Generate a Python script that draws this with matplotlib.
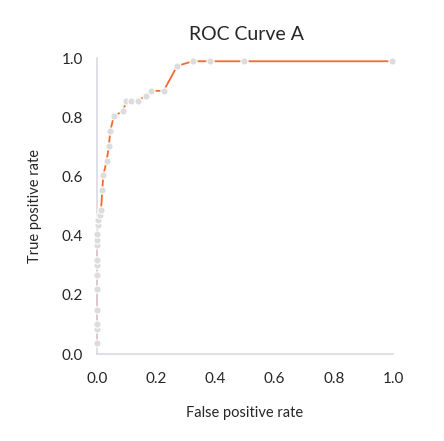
import matplotlib
matplotlib.use("Agg")
import matplotlib.pyplot as plt

fpr = [0.0, 0.0, 0.0, 0.0, 0.0, 0.0, 0.0, 0.0, 0.0, 0.0, 0.0,
       0.002, 0.005, 0.011, 0.0135, 0.018, 0.021, 0.033, 0.040, 0.045,
       0.057, 0.089, 0.098, 0.115, 0.137, 0.164, 0.182, 0.225, 0.271,
       0.323, 0.383, 0.496, 0.997]
tpr = [0.036, 0.085, 0.10, 0.15, 0.218, 0.267, 0.30, 0.318, 0.368, 0.385, 0.404,
       0.435, 0.452, 0.47, 0.485, 0.553, 0.604, 0.653, 0.703, 0.754,
       0.804, 0.821, 0.855, 0.855, 0.855, 0.872, 0.889, 0.889, 0.973,
       0.989, 0.989, 0.989, 0.989]
ticks = [0.0, 0.2, 0.4, 0.6, 0.8, 1.0]
tick_labels = ["0.0", "0.2", "0.4", "0.6", "0.8", "1.0"]

plt.rcParams['font.family'] = ['Lato', 'DejaVu Sans']
text_color = "#262626"

fig = plt.figure(figsize=(4.44, 4.41), dpi=100)
ax = fig.add_axes([97/444, 1-354/441, 296/444, 296/441])

ax.plot(fpr, tpr, color="#f26b2a", lw=1.3, zorder=2, clip_on=False)
ax.plot(fpr, tpr, ls="none", marker="o", ms=5.2, mfc="#dcdcdc", mec="white",
        mew=0.8, zorder=3, clip_on=False)

ax.set_xlim(0, 1)
ax.set_ylim(0, 1)
ax.set_xticks(ticks)
ax.set_xticklabels(tick_labels)
ax.set_yticks(ticks)
ax.set_yticklabels(tick_labels)
ax.tick_params(length=0, labelsize=11, colors=text_color)
ax.tick_params(axis="x", pad=13)
ax.tick_params(axis="y", pad=10)
for s in ["top", "right"]:
    ax.spines[s].set_visible(False)
for s in ["left", "bottom"]:
    ax.spines[s].set_color("#d9d9e6")
    ax.spines[s].set_linewidth(1.2)

ax.set_xlabel("False positive rate", fontsize=10.5, color=text_color, labelpad=14)
ax.set_ylabel("True positive rate", fontsize=10.5, color=text_color, labelpad=14)
fig.text(246/444, 1-34/441, "ROC Curve A", fontsize=14, color=text_color,
         ha="center", va="center")

fig.savefig("out.png", dpi=100)
